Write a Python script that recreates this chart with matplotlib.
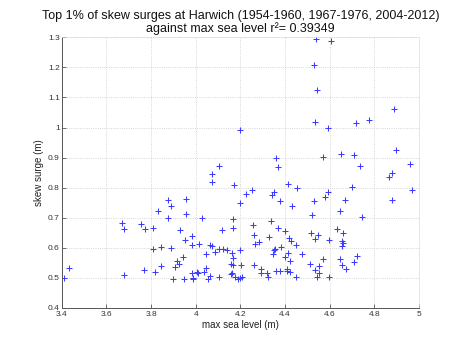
import numpy as np
import matplotlib
matplotlib.use("Agg")
import matplotlib.pyplot as plt

plt.rcParams['font.family'] = ['Liberation Sans', 'DejaVu Sans']

# max sea level (m) and skew surge (m) for the top 1% events
sea_level = [3.409, 3.434, 3.670, 3.680, 3.677, 3.753, 3.772, 3.768, 3.809, 3.809,
             3.818, 3.843, 3.846, 3.831, 3.874, 3.875, 3.891, 3.890, 3.900, 3.908,
             3.915, 3.924, 3.931, 3.943, 3.950, 3.948, 3.958, 3.958, 3.981, 3.984,
             3.984, 3.987, 3.989, 4.006, 4.012, 4.016, 4.026, 4.038, 4.046, 4.044,
             4.055, 4.064, 4.062, 4.074, 4.072, 4.072, 4.088, 4.104, 4.106, 4.105,
             4.118, 4.121, 4.142, 4.160, 4.166, 4.158, 4.164, 4.162, 4.165, 4.166,
             4.167, 4.172, 4.177, 4.187, 4.196, 4.206, 4.196, 4.197, 4.196, 4.227,
             4.252, 4.256, 4.259, 4.204, 4.262, 4.266, 4.282, 4.292, 4.292, 4.321,
             4.323, 4.327, 4.336, 4.341, 4.350, 4.345, 4.350, 4.357, 4.360, 4.369,
             4.378, 4.380, 4.378, 4.402, 4.399, 4.408, 4.410, 4.420, 4.412, 4.414,
             4.417, 4.423, 4.426, 4.432, 4.447, 4.450, 4.452, 4.475, 4.513, 4.517,
             4.521, 4.528, 4.536, 4.536, 4.542, 4.549, 4.554, 4.553, 4.571, 4.577,
             4.592, 4.596, 4.596, 4.631, 4.646, 4.647, 4.658, 4.657, 4.661, 4.656,
             4.656, 4.667, 4.675, 4.699, 4.710, 4.722, 4.744, 4.865, 4.877, 4.879,
             4.969, 4.360, 4.367, 4.569, 4.649, 4.708, 4.737, 4.897, 4.960, 4.538,
             4.605, 4.530, 4.541, 4.888, 4.536, 4.593, 4.717, 4.776]
skew_surge = [0.498, 0.532, 0.682, 0.663, 0.509, 0.679, 0.663, 0.526, 0.665, 0.597,
              0.519, 0.538, 0.601, 0.722, 0.757, 0.699, 0.740, 0.598, 0.496, 0.534,
              0.554, 0.547, 0.658, 0.568, 0.625, 0.494, 0.761, 0.711, 0.608, 0.637,
              0.516, 0.495, 0.500, 0.518, 0.516, 0.612, 0.699, 0.520, 0.532, 0.578,
              0.496, 0.507, 0.610, 0.605, 0.844, 0.820, 0.587, 0.597, 0.502, 0.872,
              0.657, 0.594, 0.592, 0.544, 0.543, 0.511, 0.515, 0.583, 0.566, 0.664,
              0.695, 0.807, 0.502, 0.495, 0.499, 0.502, 0.593, 0.747, 0.991, 0.777,
              0.791, 0.675, 0.643, 0.543, 0.541, 0.611, 0.619, 0.529, 0.516, 0.517,
              0.503, 0.636, 0.687, 0.775, 0.786, 0.580, 0.591, 0.594, 0.522, 0.666,
              0.755, 0.602, 0.523, 0.655, 0.570, 0.522, 0.528, 0.519, 0.813, 0.582,
              0.632, 0.555, 0.622, 0.738, 0.609, 0.503, 0.800, 0.578, 0.546, 0.647,
              0.708, 0.756, 0.627, 0.524, 0.503, 0.642, 0.539, 0.516, 0.562, 0.767,
              0.785, 0.624, 0.503, 0.661, 0.723, 0.561, 0.649, 0.621, 0.616, 0.607,
              0.542, 0.760, 0.530, 0.802, 0.553, 0.572, 0.701, 0.836, 0.848, 0.760,
              0.791, 0.898, 0.868, 0.902, 0.913, 0.908, 0.873, 0.924, 0.878, 1.295,
              1.287, 1.208, 1.124, 1.062, 1.019, 0.999, 1.014, 1.025]

xticks = [3.4, 3.6, 3.8, 4, 4.2, 4.4, 4.6, 4.8, 5]
yticks = [0.4, 0.5, 0.6, 0.7, 0.8, 0.9, 1, 1.1, 1.2, 1.3]

fig = plt.figure(figsize=(4.65, 3.5), dpi=100)
ax = fig.add_axes([0.133, 0.121, 0.768, 0.772])

# unsnapped thin crosses so every marker gets the same soft blue
ax.plot(sea_level, skew_surge, '+', color='#3c3cff', markersize=4.5, mew=0.75,
        snap=False)

ax.set_xlim(3.4, 5)
ax.set_ylim(0.4, 1.3)
ax.set_xticks(xticks)
ax.set_xticklabels([('%g' % v) for v in xticks])
ax.set_yticks(yticks)
ax.set_yticklabels([('%g' % v) for v in yticks])

ax.grid(True, linestyle=':', linewidth=0.6, color='#c8c8c8')
for s in ['top', 'right']:
    ax.spines[s].set_color('#d8d8d8')
    ax.spines[s].set_linestyle(':')
    ax.spines[s].set_linewidth(0.6)
for s in ['left', 'bottom']:
    ax.spines[s].set_color('#555555')
    ax.spines[s].set_linewidth(0.7)
ax.tick_params(direction='in', length=3, width=0.6, colors='#555555',
               labelsize=6, labelcolor='#333333')
ax.tick_params(axis='x', pad=2.5)
ax.tick_params(axis='y', pad=1.5)

ax.set_xlabel('max sea level (m)', fontsize=7, color='#222222', labelpad=1)
ax.set_ylabel('skew surge (m)', fontsize=7, color='#222222', labelpad=3)
ax.set_title('Top 1% of skew surges at Harwich (1954-1960, 1967-1976, 2004-2012)\n'
             'against max sea level r\u00b2= 0.39349', fontsize=9, color='#111111',
             pad=4, linespacing=1.05)

fig.savefig('out.png', dpi=100)
